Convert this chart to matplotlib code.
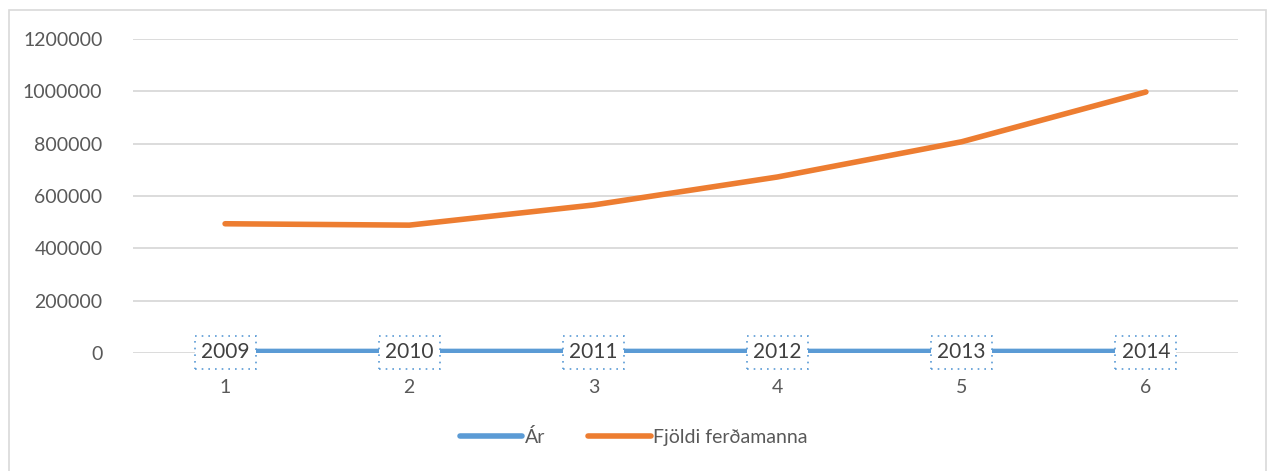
import matplotlib.pyplot as plt
from matplotlib.patches import Rectangle
from matplotlib.lines import Line2D

plt.rcParams['font.family'] = ['Lato', 'DejaVu Sans']

# data
positions = [1, 2, 3, 4, 5, 6]
ar = [2009, 2010, 2011, 2012, 2013, 2014]
ferdamenn = [493941, 488622, 565611, 672773, 807349, 997556]
yticks = [0, 200000, 400000, 600000, 800000, 1000000, 1200000]

blue = '#5b9bd5'
orange = '#ed7d31'
txt = '#595959'

fig = plt.figure(figsize=(12.68, 4.71), dpi=100)
fig.patch.set_facecolor('white')
# outer chart border
fig.patches.append(Rectangle((9 / 1268, -0.05), (1266 - 9) / 1268, 1.05 - 10 / 471,
                             transform=fig.transFigure, fill=False,
                             edgecolor='#d9d9d9', linewidth=1.2))

ax = fig.add_axes([133 / 1268, 1 - 353 / 471, (1238 - 133) / 1268, (353 - 39) / 471])
ax.set_xlim(0.5, 6.5)
ax.set_ylim(0, 1200000)
ax.set_yticks(yticks)
ax.set_yticklabels([str(v) for v in yticks])
ax.set_xticks(positions)
ax.set_xticklabels([str(p) for p in positions])
ax.tick_params(axis='both', length=0, labelsize=14, colors=txt)
ax.tick_params(axis='y', pad=22)
ax.tick_params(axis='x', pad=19)
for s in ax.spines.values():
    s.set_visible(False)
ax.grid(axis='y', color='#d9d9d9', linewidth=1.3)
ax.set_axisbelow(True)

ax.plot(positions, ar, color=blue, linewidth=5.5, solid_capstyle='butt', zorder=3)
ax.plot(positions, ferdamenn, color=orange, linewidth=4, solid_capstyle='round', zorder=4)

for p, a in zip(positions, ar):
    ax.text(p, a, str(a), ha='center', va='center', fontsize=15, color='#404040', zorder=5,
            bbox=dict(boxstyle='square,pad=0.3', facecolor='white', edgecolor=blue,
                      linestyle=(0, (1, 3)), linewidth=1.2))

handles = [Line2D([], [], color=blue, linewidth=4, solid_capstyle='round'),
           Line2D([], [], color=orange, linewidth=4, solid_capstyle='round')]
fig.legend(handles, ['Ár', 'Fjöldi ferðamanna'], loc='center', bbox_to_anchor=(0.5, 1 - 437 / 471),
           ncol=2, frameon=False, fontsize=14, labelcolor=txt, handlelength=3.2,
           handletextpad=0.15, columnspacing=2.2)

fig.savefig('out.png', dpi=100)
